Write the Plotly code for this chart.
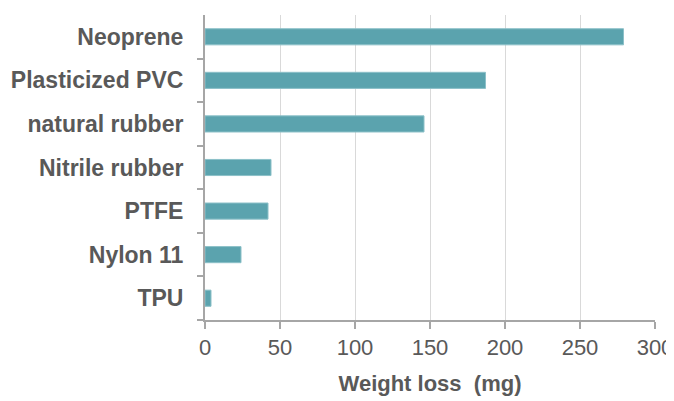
import plotly.graph_objects as go

materials = ["Neoprene", "Plasticized PVC", "natural rubber", "Nitrile rubber", "PTFE", "Nylon 11", "TPU"]
weight_loss = [279, 187, 146, 44, 42, 24, 4]
x_ticks = [0, 50, 100, 150, 200, 250, 300]
x_title = "Weight loss  (mg)"

font_family = "Liberation Sans, Arial, sans-serif"
text_color = "#595959"

fig = go.Figure(go.Bar(
    x=weight_loss,
    y=materials,
    orientation="h",
    marker=dict(color="#5ba3ae", line=dict(color="#8cc0c8", width=1)),
    width=0.37,
))

# page body has an 8px default margin, so the figure is sized to fit the window
fig.update_layout(
    width=666, height=393,
    margin=dict(l=197, r=19, t=7, b=81),
    paper_bgcolor="white", plot_bgcolor="white",
    showlegend=False,
    font=dict(family=font_family, color=text_color),
    xaxis=dict(
        range=[0, 300], tickvals=x_ticks,
        automargin=False,
        showgrid=True, gridcolor="#d9d9d9", gridwidth=1,
        showline=True, linecolor="#a6a6a6", linewidth=2,
        ticks="outside", ticklen=7, tickcolor="#a6a6a6", tickwidth=2,
        tickfont=dict(size=22, color=text_color),
        title=dict(text="<b>" + x_title.replace("  ", "&nbsp; ") + "</b>", font=dict(size=22, color=text_color), standoff=16),
        zeroline=False,
    ),
    yaxis=dict(
        categoryorder="array", categoryarray=materials[::-1],
        autorange=False, range=[-0.5, 6.5],
        automargin=False,
        showline=True, linecolor="#a6a6a6", linewidth=2,
        ticks="outside", ticklen=6, tickcolor="#a6a6a6", tickwidth=2,
        tickson="boundaries",
        showgrid=False,
        tickfont=dict(size=23, color=text_color),
        ticklabelstandoff=15,
    ),
)
fig.update_yaxes(ticktext=["<b>" + m + "</b>" for m in materials], tickvals=materials)

fig.write_html("out.html")
